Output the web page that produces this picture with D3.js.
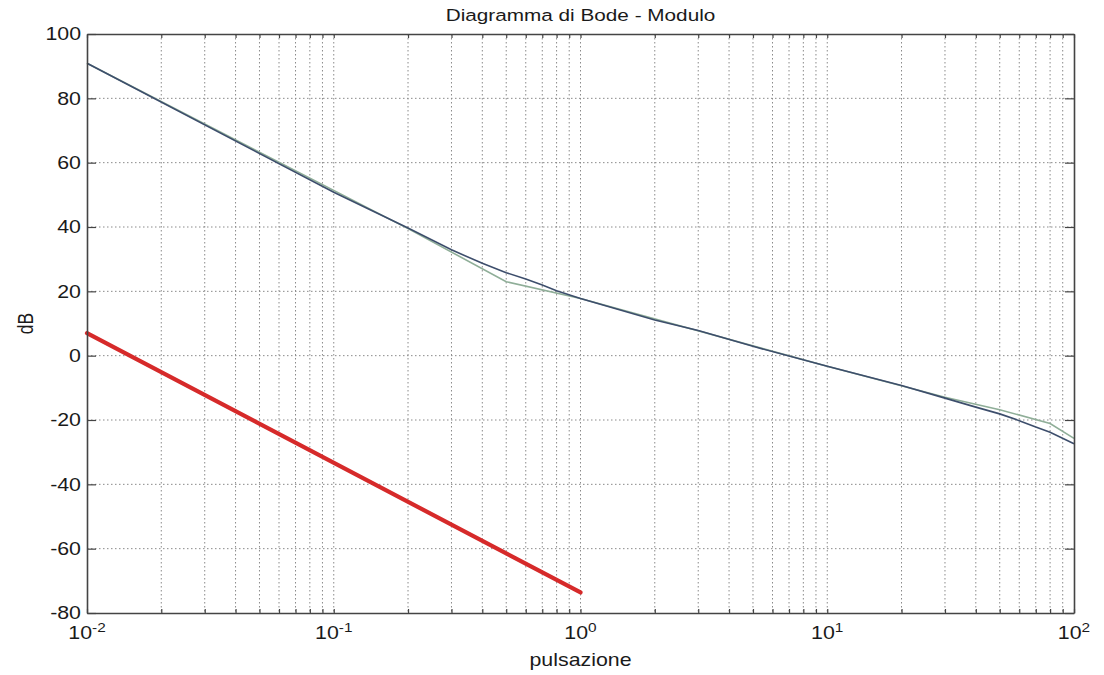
<!DOCTYPE html>
<html>
<head>
<meta charset="utf-8">
<script src="https://cdn.jsdelivr.net/npm/d3@7"></script>
<style>
  body { margin: 0; background: #fff; }
  text { font-family: "Liberation Sans", Arial, sans-serif; fill: #1a1a1a; }
</style>
</head>
<body>
<script>
// Data
const freqReal = [0.01, 0.1, 0.2, 0.3, 0.4, 0.5, 0.6, 0.7, 0.8, 1, 2, 3, 5, 10, 20, 30, 40, 50, 60, 70, 80, 100]
const magReal = [90.9, 50.8, 39.7, 32.9, 28.7, 25.8, 23.8, 22.0, 20.2, 17.8, 11.1, 7.8, 2.9, -3.3, -9.3, -13.2, -16.0, -18.1, -20.2, -22.2, -23.8, -27.4]
const freqAsym = [0.01, 0.2, 0.5, 1, 10, 30, 50, 80, 100]
const magAsym = [90.9, 39.5, 23.0, 17.8, -3.3, -12.9, -16.8, -21.1, -25.7]
const freqRed = [0.01, 1]
const magRed = [7.0, -73.6]
const yTicks = [-80, -60, -40, -20, 0, 20, 40, 60, 80, 100]
const decades = [0.01, 0.1, 1, 10, 100]

const W = 1104, H = 675
const margin = { top: 34, right: 30, bottom: 62, left: 87 }
const sx = 1.22 // the picture is stretched sideways

const svg = d3.select("body").append("svg").attr("width", W).attr("height", H)

const x = d3.scaleLog().domain([0.01, 100]).range([margin.left, W - margin.right])
const y = d3.scaleLinear().domain([-80, 100]).range([H - margin.bottom, margin.top])
const xAll = x.ticks()

// Grid
const grid = svg.append("g").attr("stroke", "#8a8a8a").attr("stroke-width", 1).attr("stroke-dasharray", "1.5,2.5")
grid.selectAll("line.v")
  .data(xAll.filter(d => d > 0.01 && d < 100))
  .join("line")
  .attr("x1", d => x(d)).attr("x2", d => x(d))
  .attr("y1", y(100)).attr("y2", y(-80))
grid.selectAll("line.h")
  .data(yTicks.filter(d => d > -80 && d < 100))
  .join("line")
  .attr("class", "h")
  .attr("x1", x(0.01)).attr("x2", x(100))
  .attr("y1", d => y(d)).attr("y2", d => y(d))

// Curves
const line = d3.line().x(d => x(d[0])).y(d => y(d[1]))
svg.append("path").datum(d3.zip(freqAsym, magAsym))
  .attr("fill", "none").attr("stroke", "#8fae98").attr("stroke-width", 1.6).attr("d", line)
svg.append("path").datum(d3.zip(freqReal, magReal))
  .attr("fill", "none").attr("stroke", "#3d4e6c").attr("stroke-width", 1.6).attr("d", line)
svg.append("path").datum(d3.zip(freqRed, magRed))
  .attr("fill", "none").attr("stroke", "#d62a2a").attr("stroke-width", 4.2).attr("stroke-linecap", "round").attr("d", line)

// Axes, ticks pointing inward on every side
const axisStyle = g => {
  g.select(".domain").attr("stroke", "#444").attr("stroke-width", 1.6)
  g.selectAll(".tick line").attr("stroke", "#444").attr("stroke-width", 1.2)
}
svg.append("g").attr("transform", `translate(0,${y(-80)})`)
  .call(d3.axisBottom(x).tickValues(xAll).tickSize(-4).tickSizeOuter(0).tickFormat(""))
  .call(axisStyle)
svg.append("g").attr("transform", `translate(0,${y(100)})`)
  .call(d3.axisTop(x).tickValues(xAll).tickSize(-4).tickSizeOuter(0).tickFormat(""))
  .call(axisStyle)
svg.append("g").attr("transform", `translate(${x(0.01)},0)`)
  .call(d3.axisLeft(y).tickValues(yTicks).tickSize(-9).tickSizeOuter(0).tickFormat(""))
  .call(axisStyle)
svg.append("g").attr("transform", `translate(${x(100)},0)`)
  .call(d3.axisRight(y).tickValues(yTicks).tickSize(-9).tickSizeOuter(0).tickFormat(""))
  .call(axisStyle)

// Tick labels
svg.append("g").selectAll("text")
  .data(yTicks)
  .join("text")
  .attr("transform", d => `translate(${x(0.01) - 6},${y(d)}) scale(${sx},1)`)
  .attr("text-anchor", "end")
  .attr("dy", "0.36em")
  .attr("font-size", 17.5)
  .text(d => d)

const xl = svg.append("g").selectAll("text")
  .data(decades)
  .join("text")
  .attr("transform", d => `translate(${x(d)},${y(-80) + 26}) scale(${sx},1)`)
  .attr("text-anchor", "middle")
  .attr("font-size", 17.5)
xl.append("tspan").text("10")
xl.append("tspan").attr("dy", "-0.55em").attr("font-size", "0.72em").text(d => Math.round(Math.log10(d)))

// Titles
svg.append("text")
  .attr("transform", `translate(${(x(0.01) + x(100)) / 2},${21}) scale(${sx},1)`)
  .attr("text-anchor", "middle").attr("font-size", 17)
  .text("Diagramma di Bode - Modulo")
svg.append("text")
  .attr("transform", `translate(${(x(0.01) + x(100)) / 2},${y(-80) + 53}) scale(${sx},1)`)
  .attr("text-anchor", "middle").attr("font-size", 17.5)
  .text("pulsazione")
svg.append("text")
  .attr("transform", `translate(${33},${(y(100) + y(-80)) / 2}) scale(${sx},1) rotate(-90)`)
  .attr("text-anchor", "middle").attr("font-size", 17.5)
  .text("dB")
</script>
</body>
</html>
